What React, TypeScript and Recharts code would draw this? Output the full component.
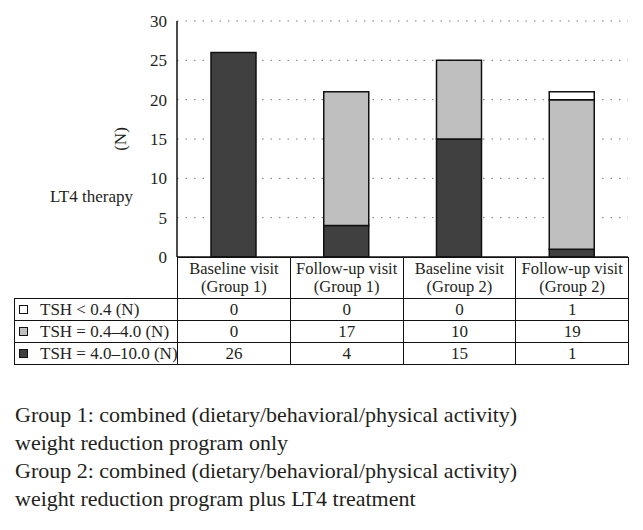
import { BarChart, Bar, XAxis, YAxis, CartesianGrid } from "recharts";

// 四个访视组（表头两行）
const visits = ["Baseline visit", "Follow-up visit", "Baseline visit", "Follow-up visit"];
const groups = ["(Group 1)", "(Group 1)", "(Group 2)", "(Group 2)"];

// TSH 分层人数
const tshLow = [0, 0, 0, 1]; // TSH < 0.4
const tshNormal = [0, 17, 10, 19]; // TSH = 0.4–4.0
const tshHigh = [26, 4, 15, 1]; // TSH = 4.0–10.0

const yTicks = [0, 5, 10, 15, 20, 25, 30];

const series = [
  { key: "low", label: "TSH < 0.4 (N)", values: tshLow, color: "#ffffff" },
  { key: "normal", label: "TSH = 0.4–4.0 (N)", values: tshNormal, color: "#bfbfbf" },
  { key: "high", label: "TSH = 4.0–10.0 (N)", values: tshHigh, color: "#404040" },
];

const chartData = visits.map((v, i) => ({
  name: `${v} ${groups[i]}`,
  low: tshLow[i],
  normal: tshNormal[i],
  high: tshHigh[i],
}));

const FONT = "'Liberation Serif', 'Times New Roman', serif";
const TEXT = "#231f20";

const cellBorder = "1.5px solid #111";

const YLabel = (props: any) => {
  const { viewBox } = props;
  const x = viewBox.x + 3;
  const y = viewBox.y + viewBox.height / 2;
  return (
    <text
      x={x}
      y={y}
      transform={`rotate(-90, ${x}, ${y})`}
      textAnchor="middle"
      dominantBaseline="central"
      fontSize={17}
      fontFamily={FONT}
      fill={TEXT}
    >
      (N)
    </text>
  );
};

const App = () => {
  return (
    <div
      style={{
        position: "absolute",
        left: 0,
        top: 0,
        width: 643,
        height: 530,
        background: "#fff",
        fontFamily: FONT,
        color: TEXT,
      }}
    >
      <BarChart
        width={643}
        height={270}
        data={chartData}
        margin={{ top: 21, right: 15, left: 117, bottom: 12 }}
        barSize={45}
      >
        <CartesianGrid
          vertical={false}
          stroke="#777"
          strokeDasharray="1.5 7"
          horizontalValues={[5, 10, 15, 20, 25, 30]}
        />
        <XAxis
          dataKey="name"
          tick={false}
          tickLine={false}
          height={1}
          axisLine={{ stroke: "#111", strokeWidth: 1.5 }}
        />
        <YAxis
          width={60}
          domain={[0, 30]}
          ticks={yTicks}
          interval={0}
          tickLine={false}
          tickMargin={4}
          axisLine={{ stroke: "#111", strokeWidth: 1.5 }}
          tick={{ fontSize: 17, fontFamily: FONT, fill: TEXT }}
          label={<YLabel />}
        />
        <Bar dataKey="high" stackId="a" fill="#404040" stroke="#111" strokeWidth={1.5} isAnimationActive={false} />
        <Bar dataKey="normal" stackId="a" fill="#bfbfbf" stroke="#111" strokeWidth={1.5} isAnimationActive={false} />
        <Bar dataKey="low" stackId="a" fill="#ffffff" stroke="#111" strokeWidth={1.5} isAnimationActive={false} />
      </BarChart>

      {/* 左侧说明文字 */}
      <div style={{ position: "absolute", left: 50, top: 187, fontSize: 17, lineHeight: "20px" }}>LT4 therapy</div>

      {/* 数据表 */}
      <table
        style={{
          position: "absolute",
          left: 14,
          top: 257,
          width: 614,
          borderCollapse: "collapse",
          tableLayout: "fixed",
          fontSize: 17,
        }}
      >
        <colgroup>
          <col style={{ width: 163 }} />
          {visits.map((_, i) => (
            <col key={i} style={{ width: 112.75 }} />
          ))}
        </colgroup>
        <tbody>
          <tr style={{ height: 41 }}>
            <td style={{ borderRight: cellBorder, padding: 0 }} />
            {visits.map((v, i) => (
              <td
                key={i}
                style={{
                  border: cellBorder,
                  textAlign: "center",
                  verticalAlign: "top",
                  fontSize: 16.5,
                  lineHeight: "17.5px",
                  padding: "2px 0 0 0",
                  whiteSpace: "nowrap",
                }}
              >
                {v}
                <br />
                {groups[i]}
              </td>
            ))}
          </tr>
          {series.map((s) => (
            <tr key={s.key} style={{ height: 22 }}>
              <td style={{ border: cellBorder, padding: "0 0 0 4px", whiteSpace: "nowrap", lineHeight: "20px" }}>
                <span
                  style={{
                    display: "inline-block",
                    width: 7,
                    height: 7,
                    background: s.color,
                    border: "1.5px solid #111",
                    marginRight: 12,
                    verticalAlign: "1px",
                  }}
                />
                {s.label}
              </td>
              {s.values.map((v, i) => (
                <td key={i} style={{ border: cellBorder, textAlign: "center", padding: 0, lineHeight: "20px" }}>
                  {v}
                </td>
              ))}
            </tr>
          ))}
        </tbody>
      </table>

      {/* 图注 */}
      <div style={{ position: "absolute", left: 15, top: 401, fontSize: 22, lineHeight: "28px" }}>
        Group 1: combined (dietary/behavioral/physical activity)
        <br />
        weight reduction program only
        <br />
        Group 2: combined (dietary/behavioral/physical activity)
        <br />
        weight reduction program plus LT4 treatment
      </div>
    </div>
  );
};

export default App;
